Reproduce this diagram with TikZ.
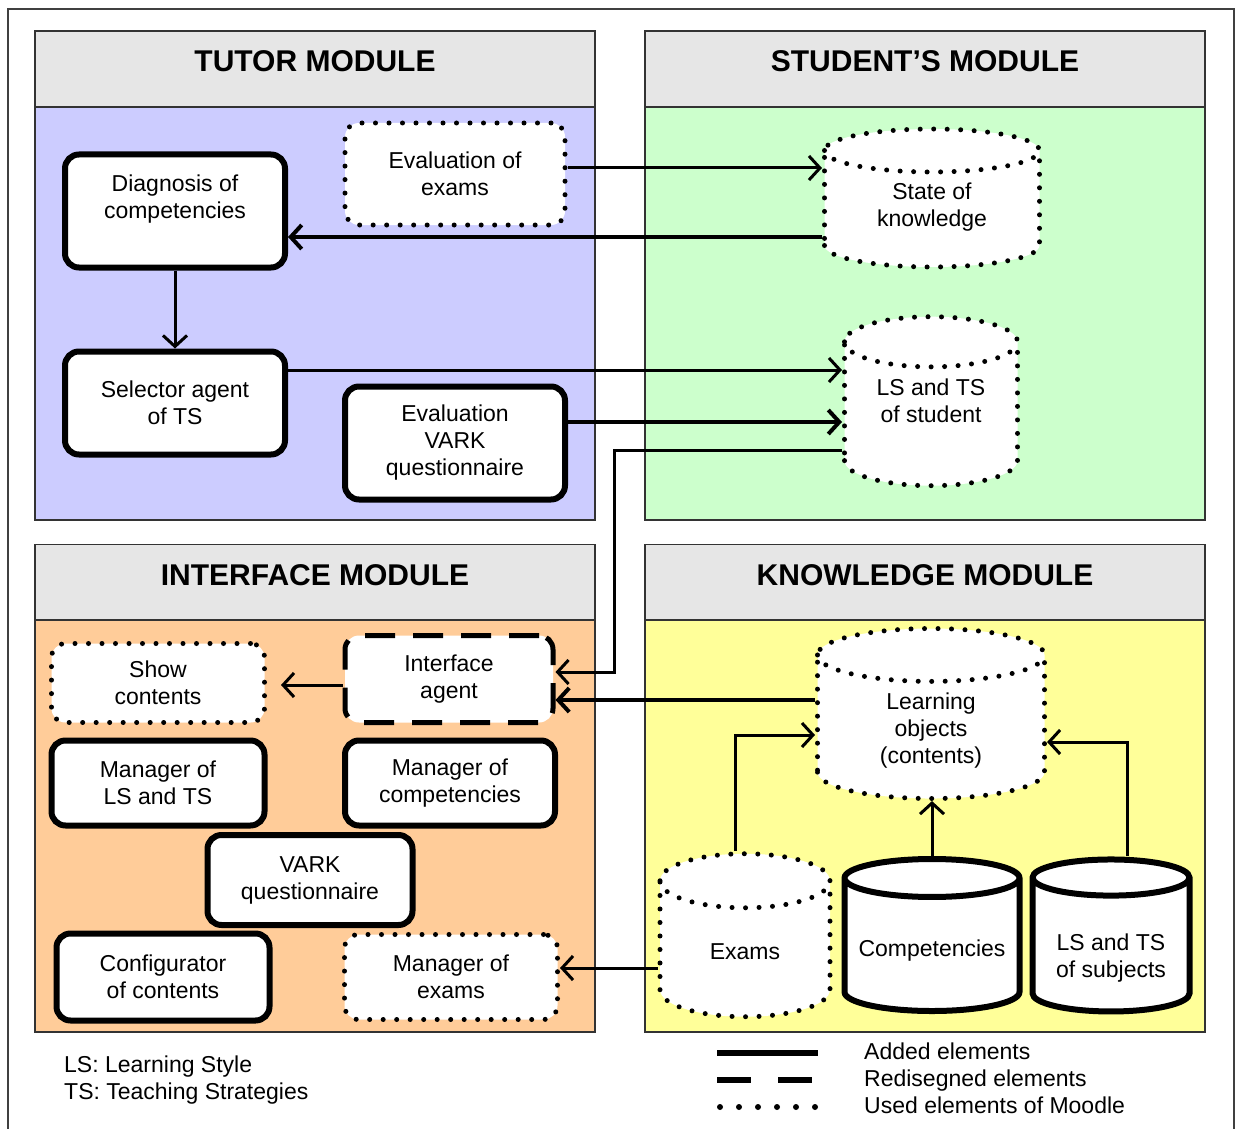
\documentclass[tikz,border=0pt]{standalone}
\usepackage{fontspec}
\setmainfont{Liberation Sans}
\usetikzlibrary{shapes.geometric,arrows.meta,positioning}
\definecolor{tutorblue}{HTML}{CCCCFF}
\definecolor{studgreen}{HTML}{CCFFCC}
\definecolor{intforange}{HTML}{FFCC99}
\definecolor{knowyellow}{HTML}{FFFF99}
\definecolor{headgray}{HTML}{E6E6E6}
\newcommand{\bodyfont}{\fontsize{23}{27}\selectfont}
\newcommand{\headfont}{\fontsize{30}{34}\selectfont\bfseries}
\tikzset{basic/.style={draw,fill=white,align=center,font=\bodyfont,inner sep=0pt,rounded corners=14pt}}
\tikzset{added/.style={basic,line width=6pt}}
\tikzset{redesigned/.style={basic,line width=5pt,dash pattern=on 30pt off 18pt}}
\tikzset{moodle/.style={basic,line width=5pt,line cap=round,dash pattern=on 0pt off 13.5pt}}
\tikzset{store/.style={cylinder,shape border rotate=90,sharp corners,text width=#1,minimum width=#1}}
\tikzset{modhead/.style={draw=black!80,line width=1.5pt,fill=headgray,minimum width=560pt,minimum height=76pt,
                         font=\headfont,text height=21pt,text depth=16pt}}
\tikzset{modbody/.style={draw=black!80,line width=1.5pt,minimum width=560pt}}
\tikzset{link/.style={draw,line width=3pt,-{Straight Barb[length=11pt,width=24pt]}}}
\tikzset{every label/.style={align=center,font=\bodyfont}}

\begin{document}
\begin{tikzpicture}[x=1pt,y=-1pt]
    \useasboundingbox (0,0) rectangle (1237,1129);
    \draw[line width=1.5pt,black!75] (8,1129) -- (8,9) -- (1234,9) -- (1234,1129);

    % modules
    \node[modhead] (tuthead) at (315,69) {TUTOR MODULE};
    \node[modbody,fill=tutorblue,minimum height=413pt] (tutbody) at (315,313.5) {};
    \node[modhead] (studhead) at (925,69) {STUDENT'S MODULE};
    \node[modbody,fill=studgreen,minimum height=413pt] (studbody) at (925,313.5) {};
    \node[modhead] (intfhead) at (315,582.5) {INTERFACE MODULE};
    \node[modbody,fill=intforange,minimum height=412pt] (intfbody) at (315,826) {};
    \node[modhead] (knowhead) at (925,582.5) {KNOWLEDGE MODULE};
    \node[modbody,fill=knowyellow,minimum height=412pt] (knowbody) at (925,826) {};

    % tutor module
    \node[added,minimum width=220pt,minimum height=113pt,
          label={[yshift=12pt]center:Diagnosis of\\competencies}] (diag) at (175,211) {};
    \node[moodle,minimum width=220pt,minimum height=102pt] (evex) at (455,174) {Evaluation of\\exams};
    \node[added,minimum width=220pt,minimum height=103pt] (sel) at (175,403) {Selector agent\\of TS};
    \node[added,minimum width=220pt,minimum height=113pt] (evvark) at (455,443) {Evaluation\\VARK\\questionnaire};

    % student's module
    \node[moodle,store=215pt,aspect=0.2,minimum height=138pt,
          label={[yshift=3pt]center:State of\\knowledge}] (soknow) at (932,210) {};
    \node[moodle,store=173pt,aspect=0.29,minimum height=169pt,
          label={[yshift=14pt]center:LS and TS\\of student}] (lsstud) at (931,415) {};

    % interface module
    \node[moodle,minimum width=213pt,minimum height=79pt] (show) at (158,683) {Show\\contents};
    \node[redesigned,minimum width=208pt,minimum height=87pt] (iagent) at (449,679) {Interface\\agent};
    \node[added,minimum width=213pt,minimum height=85pt] (mglsts) at (158,783) {Manager of\\LS and TS};
    \node[added,minimum width=210pt,minimum height=85pt] (mgcomp) at (450,783) {Manager of\\competencies};
    \node[added,minimum width=205pt,minimum height=90pt] (vark) at (310,880) {VARK\\questionnaire};
    \node[added,minimum width=213pt,minimum height=87pt] (config) at (163,977) {Configurator\\of contents};
    \node[moodle,minimum width=213pt,minimum height=85pt] (mgex) at (451,977) {Manager of\\exams};

    % knowledge module
    \node[moodle,store=227pt,aspect=0.233,minimum height=170pt,
          label={[yshift=-3pt]center:Learning\\objects\\(contents)}] (lobj) at (931,728) {};
    \node[moodle,store=170pt,aspect=0.318,minimum height=163pt,
          label={[yshift=-2pt]center:Exams}] (exams) at (745,950) {};
    \node[added,store=175pt,aspect=0.217,minimum height=152pt,
          label={[yshift=-5pt]center:Competencies}] (comp) at (932,946) {};
    \node[added,store=157pt,aspect=0.23,minimum height=152pt,
          label={[yshift=-12pt]center:LS and TS\\of subjects}] (lssub) at (1111,946) {};

    % connectors
    \path[link] ([yshift=6pt]evex.east) -- ([yshift=42pt]soknow.west);
    \path[link,line width=4pt] ([yshift=-27pt]soknow.west) -- ([yshift=-26pt]diag.east);
    \path[link] (diag.south) -- (sel.north);
    \path[link] ([yshift=33pt]sel.east) -- ([yshift=45pt]lsstud.west);
    \path[link,line width=4pt] ([yshift=21pt]evvark.east) -- ([yshift=-7pt]lsstud.west);
    \path[link] ([yshift=-35pt]lsstud.west) -- ++(-228,0) |- ([yshift=7pt]iagent.east);
    \path[link,line width=4pt] ([yshift=28pt]lobj.west) -- ([yshift=-21pt]iagent.east);
    \path[link,shorten >=14pt] ([yshift=-6pt]iagent.west) -- ([yshift=-2pt]show.east);
    \path[link] ([yshift=-18pt]exams.west) -- ([yshift=9pt]mgex.east);
    \path[link] ([xshift=-10pt]exams.north) |- ([yshift=-7pt]lobj.west);
    \path[link] (comp.north) -- (comp.north |- lobj.south);
    \path[link] ([xshift=16pt]lssub.north) |- ([yshift=-14pt]lobj.east);

    % legend
    \node[font=\bodyfont,align=left,anchor=north west,inner sep=0pt] (abbrev) at (64,1056)
        {LS: Learning Style\\TS: Teaching Strategies};
    \node[font=\bodyfont,align=left,anchor=north west,inner sep=0pt] (legtext) at (864,1043)
        {Added elements\\Redisegned elements\\Used elements of Moodle};
    \draw[line width=6pt] (717,1053) -- (818,1053);
    \draw[line width=6pt,dash pattern=on 34pt off 27pt] (717,1080) -- (818,1080);
    \draw[line width=6pt,line cap=round,dash pattern=on 0pt off 19pt] (720,1107) -- (818,1107);
\end{tikzpicture}
\end{document}
